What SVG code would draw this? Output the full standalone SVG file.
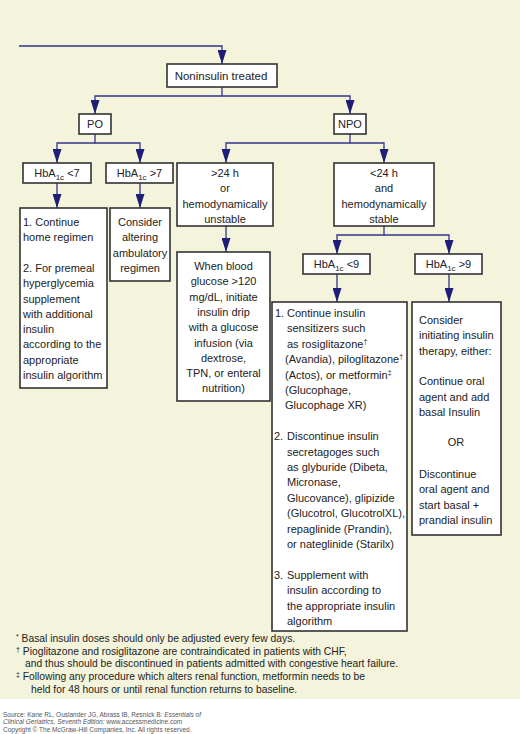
<svg xmlns="http://www.w3.org/2000/svg" width="520" height="734" viewBox="0 0 520 734">
<style>
text{font-family:"Liberation Sans",Arial,sans-serif;fill:#222}
.t{font-size:11px}
.c{text-anchor:middle}
.box{fill:#fff;stroke:#333;stroke-width:1.6}
.con{fill:none;stroke:#33338a;stroke-width:1.3}
.sub{font-size:8px}
.sup{font-size:7px}
.fn{font-size:10.3px}
.src{font-size:6.5px;fill:#555}
</style>
<defs>
<marker id="ah" viewBox="0 0 14 9" refX="14" refY="4.5" markerWidth="14" markerHeight="9" markerUnits="userSpaceOnUse" orient="auto">
<path d="M0,0 L14,4.5 L0,9 z" fill="#1e1e78"/>
</marker>
</defs>
<rect x="0" y="0" width="520" height="699" fill="#f4f4dc"/>
<rect x="0" y="699" width="520" height="35" fill="#fff"/>

<g id="connectors" class="con">
<path d="M19,46 H222 V64" marker-end="url(#ah)"/>
<path d="M222,87 V96 H95 V114" marker-end="url(#ah)"/>
<path d="M222,96 H350 V114" marker-end="url(#ah)"/>
<path d="M95,134 V143 H57 V163" marker-end="url(#ah)"/>
<path d="M95,143 H140 V163" marker-end="url(#ah)"/>
<path d="M350,134 V143 H226 V163" marker-end="url(#ah)"/>
<path d="M350,143 H384 V163" marker-end="url(#ah)"/>
<path d="M57,183 V208" marker-end="url(#ah)"/>
<path d="M140,183 V208" marker-end="url(#ah)"/>
<path d="M226,226 V252" marker-end="url(#ah)"/>
<path d="M384,226 V235 H337 V254" marker-end="url(#ah)"/>
<path d="M384,235 H449 V254" marker-end="url(#ah)"/>
<path d="M337,274 V302" marker-end="url(#ah)"/>
<path d="M449,274 V302" marker-end="url(#ah)"/>
</g>

<g id="noninsulin">
<rect class="box" x="167" y="64" width="110" height="23"/>
<text class="t c" x="221" y="80" style="font-size:11.5px">Noninsulin treated</text>
</g>
<g id="po">
<rect class="box" x="79" y="114" width="32" height="20"/>
<text class="t c" x="95" y="128">PO</text>
</g>
<g id="npo">
<rect class="box" x="334" y="114" width="32" height="20"/>
<text class="t c" x="350" y="128">NPO</text>
</g>
<g id="hba1c-lt7">
<rect class="box" x="23" y="163" width="68" height="20"/>
<text class="t c" x="57" y="177">HbA<tspan class="sub" dy="3">1c</tspan><tspan dy="-3"> &lt;7</tspan></text>
</g>
<g id="hba1c-gt7">
<rect class="box" x="106" y="163" width="67" height="20"/>
<text class="t c" x="139.5" y="177">HbA<tspan class="sub" dy="3">1c</tspan><tspan dy="-3"> &gt;7</tspan></text>
</g>
<g id="gt24">
<rect class="box" x="177" y="163" width="96" height="63"/>
<text class="t c" x="225" y="177">&gt;24 h</text>
<text class="t c" x="225" y="192.3">or</text>
<text class="t c" x="225" y="207.6">hemodynamically</text>
<text class="t c" x="225" y="222.9">unstable</text>
</g>
<g id="lt24">
<rect class="box" x="334" y="163" width="100" height="63"/>
<text class="t c" x="384" y="177">&lt;24 h</text>
<text class="t c" x="384" y="192.3">and</text>
<text class="t c" x="384" y="207.6">hemodynamically</text>
<text class="t c" x="384" y="222.9">stable</text>
</g>
<g id="continue-home">
<rect class="box" x="20" y="208" width="87" height="180"/>
<text class="t" x="23" y="226">1. Continue</text>
<text class="t" x="23" y="241.3">home regimen</text>
<text class="t" x="23" y="271.9">2. For premeal</text>
<text class="t" x="23" y="287.2">hyperglycemia</text>
<text class="t" x="23" y="302.5">supplement</text>
<text class="t" x="23" y="317.8">with additional</text>
<text class="t" x="23" y="333.1">insulin</text>
<text class="t" x="23" y="348.4">according to the</text>
<text class="t" x="23" y="363.7">appropriate</text>
<text class="t" x="23" y="379">insulin algorithm</text>
</g>
<g id="consider-altering">
<rect class="box" x="110" y="208" width="60" height="73"/>
<text class="t c" x="140" y="226">Consider</text>
<text class="t c" x="140" y="241.3">altering</text>
<text class="t c" x="140" y="256.6">ambulatory</text>
<text class="t c" x="140" y="271.9">regimen</text>
</g>
<g id="insulin-drip">
<rect class="box" x="177" y="252" width="93" height="149"/>
<text class="t c" x="223.5" y="270">When blood</text>
<text class="t c" x="223.5" y="285.3">glucose &gt;120</text>
<text class="t c" x="223.5" y="300.6">mg/dL, initiate</text>
<text class="t c" x="223.5" y="315.9">insulin drip</text>
<text class="t c" x="223.5" y="331.2">with a glucose</text>
<text class="t c" x="223.5" y="346.5">infusion (via</text>
<text class="t c" x="223.5" y="361.8">dextrose,</text>
<text class="t c" x="223.5" y="377.1">TPN, or enteral</text>
<text class="t c" x="223.5" y="392.4">nutrition)</text>
</g>
<g id="hba1c-lt9">
<rect class="box" x="303" y="254" width="67" height="20"/>
<text class="t c" x="336.5" y="268">HbA<tspan class="sub" dy="3">1c</tspan><tspan dy="-3"> &lt;9</tspan></text>
</g>
<g id="hba1c-gt9">
<rect class="box" x="415" y="254" width="67" height="20"/>
<text class="t c" x="448.5" y="268">HbA<tspan class="sub" dy="3">1c</tspan><tspan dy="-3"> &gt;9</tspan></text>
</g>
<g id="lt9-actions">
<rect class="box" x="272" y="302" width="135" height="329"/>
<text class="t" x="275" y="317">1.</text>
<text class="t" x="287" y="317">Continue insulin</text>
<text class="t" x="287" y="332.4">sensitizers such</text>
<text class="t" x="287" y="347.8">as rosiglitazone<tspan class="sup" dy="-4">†</tspan></text>
<text class="t" x="285" y="363.2">(Avandia), piloglitazone<tspan class="sup" dy="-4">†</tspan></text>
<text class="t" x="285" y="378.6">(Actos), or metformin<tspan class="sup" dy="-4">‡</tspan></text>
<text class="t" x="285" y="394">(Glucophage,</text>
<text class="t" x="285" y="409.4">Glucophage XR)</text>
<text class="t" x="274" y="440.2">2.</text>
<text class="t" x="287" y="440.2">Discontinue insulin</text>
<text class="t" x="287" y="455.6">secretagoges such</text>
<text class="t" x="287" y="471">as glyburide (Dibeta,</text>
<text class="t" x="287" y="486.4">Micronase,</text>
<text class="t" x="287" y="501.8">Glucovance), glipizide</text>
<text class="t" x="287" y="517.2">(Glucotrol, GlucotrolXL),</text>
<text class="t" x="287" y="532.6">repaglinide (Prandin),</text>
<text class="t" x="287" y="548">or nateglinide (Starilx)</text>
<text class="t" x="274" y="578.8">3.</text>
<text class="t" x="287" y="578.8">Supplement with</text>
<text class="t" x="287" y="594.2">insulin according to</text>
<text class="t" x="287" y="609.6">the appropriate insulin</text>
<text class="t" x="287" y="625">algorithm</text>
</g>
<g id="gt9-actions">
<rect class="box" x="412" y="302" width="89" height="233"/>
<text class="t" x="419" y="324">Consider</text>
<text class="t" x="419" y="339.4">initiating insulin</text>
<text class="t" x="419" y="354.7">therapy, either:</text>
<text class="t" x="419" y="385.4">Continue oral</text>
<text class="t" x="419" y="400.8">agent and add</text>
<text class="t" x="419" y="416.1">basal Insulin</text>
<text class="t c" x="456" y="446.2">OR</text>
<text class="t" x="419" y="477.9">Discontinue</text>
<text class="t" x="419" y="493.3">oral agent and</text>
<text class="t" x="419" y="508.6">start basal +</text>
<text class="t" x="419" y="524">prandial insulin</text>
</g>

<g id="footnotes">
<text class="fn" x="16" y="642"><tspan class="sup" dy="-3">*</tspan><tspan dy="3"> Basal insulin doses should only be adjusted every few days.</tspan></text>
<text class="fn" x="16" y="655"><tspan class="sup" dy="-3">†</tspan><tspan dy="3"> Pioglitazone and rosiglitazone are contraindicated in patients with CHF,</tspan></text>
<text class="fn" x="25" y="667">and thus should be discontinued in patients admitted with congestive heart failure.</text>
<text class="fn" x="16" y="680"><tspan class="sup" dy="-3">‡</tspan><tspan dy="3"> Following any procedure which alters renal function, metformin needs to be</tspan></text>
<text class="fn" x="31" y="693">held for 48 hours or until renal function returns to baseline.</text>
</g>
<g id="source">
<text class="src" x="3" y="716.5">Source: Kane RL, Ouslander JG, Abrass IB, Resnick B: <tspan font-style="italic">Essentials of</tspan></text>
<text class="src" x="3" y="724"><tspan font-style="italic">Clinical Geriatrics, Seventh Edition:</tspan> www.accessmedicine.com</text>
<text class="src" x="3" y="731.5">Copyright © The McGraw-Hill Companies, Inc. All rights reserved.</text>
</g>
</svg>
